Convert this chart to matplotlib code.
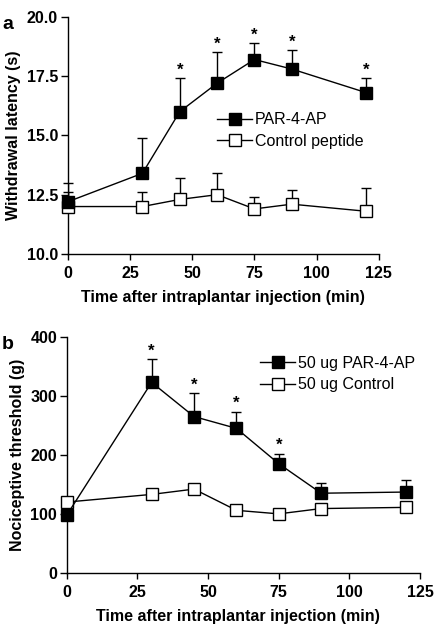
import matplotlib
matplotlib.use("Agg")
import matplotlib.pyplot as plt

plt.rcParams['font.family'] = ['Liberation Sans', 'DejaVu Sans']

time = [0, 30, 45, 60, 75, 90, 120]

# Panel a
a_par = [12.2, 13.4, 16.0, 17.2, 18.2, 17.8, 16.8]
a_par_err = [0.8, 1.5, 1.4, 1.3, 0.7, 0.8, 0.6]
a_ctl = [12.0, 12.0, 12.3, 12.5, 11.9, 12.1, 11.8]
a_ctl_err = [0.6, 0.6, 0.9, 0.9, 0.5, 0.6, 1.0]
a_star = [45, 60, 75, 90, 120]

# Panel b
b_par = [98, 323, 265, 245, 185, 135, 137]
b_par_err = [0, 39, 40, 28, 17, 17, 21]
b_ctl = [120, 133, 142, 106, 100, 109, 111]
b_ctl_err = [0, 8, 0, 0, 5, 0, 0]
b_star = [30, 45, 60, 75]

FS = 11.5

fig = plt.figure(figsize=(4.34, 6.24), dpi=100)
axA = fig.add_axes([0.156, 0.593, 0.717, 0.380])
axB = fig.add_axes([0.154, 0.082, 0.814, 0.378])

def draw(ax, par, perr, ctl, cerr, stars, labels, ylim, yticks, yfmt, ylabel, star_off, legloc, xlab_x):
    n = len(time)
    ax.errorbar(time, ctl, yerr=[[0]*n, cerr], fmt='none', ecolor='black', elinewidth=1, capsize=3.6, capthick=1, zorder=2)
    ax.errorbar(time, par, yerr=[[0]*n, perr], fmt='none', ecolor='black', elinewidth=1, capsize=3.6, capthick=1, zorder=2)
    ax.plot(time, ctl, '-s', color='black', mfc='white', mec='black', ms=8, mew=1, lw=1, label=labels[1], zorder=3)
    ax.plot(time, par, '-s', color='black', mfc='black', mec='black', ms=8, mew=1, lw=1, label=labels[0], zorder=4)
    for t, v, e in zip(time, par, perr):
        if t in stars:
            ax.text(t, v + e + star_off, '*', ha='center', va='bottom', fontsize=12, fontweight='bold')
    ax.set_xlim(0, 125)
    ax.set_ylim(*ylim)
    ax.set_xticks([0, 25, 50, 75, 100, 125])
    ax.set_yticks(yticks)
    ax.set_yticklabels([yfmt.format(v) for v in yticks])
    for s in ['top', 'right']:
        ax.spines[s].set_visible(False)
    for s in ['left', 'bottom']:
        ax.spines[s].set_linewidth(1)
    ax.tick_params(axis='x', direction='out', length=4, width=1, labelsize=FS, pad=5)
    ax.tick_params(axis='y', direction='out', length=5, width=1, labelsize=FS, pad=2)
    for lab in ax.get_xticklabels() + ax.get_yticklabels():
        lab.set_fontweight('bold')
    ax.set_xlabel('Time after intraplantar injection (min)', fontsize=FS, fontweight='bold', labelpad=6)
    ax.xaxis.label.set_x(xlab_x)
    ax.set_ylabel(ylabel, fontsize=FS, fontweight='bold', labelpad=4)
    h, l = ax.get_legend_handles_labels()
    ax.legend(h[::-1], l[::-1], loc='center left', bbox_to_anchor=legloc, frameon=False,
              fontsize=FS, handlelength=2.2, handletextpad=0.15, labelspacing=0.4, borderaxespad=0, borderpad=0)
    for ln in ax.get_lines():
        ln.set_clip_on(False)

draw(axA, a_par, a_par_err, a_ctl, a_ctl_err, a_star, ['PAR-4-AP', 'Control peptide'],
     (10, 20), [10.0, 12.5, 15.0, 17.5, 20.0], '{:.1f}', 'Withdrawal latency (s)', 0.02,
     (0.48, 0.52), 0.5)
draw(axB, b_par, b_par_err, b_ctl, b_ctl_err, b_star, ['50 ug PAR-4-AP', '50 ug Control'],
     (0, 400), [0, 100, 200, 300, 400], '{:d}', 'Nociceptive threshold (g)', 1,
     (0.547, 0.843), 0.485)

fig.text(0.005, 0.975, 'a', fontsize=14, fontweight='bold', va='top')
fig.text(0.005, 0.462, 'b', fontsize=14, fontweight='bold', va='top')

fig.savefig('out.png', dpi=100)
